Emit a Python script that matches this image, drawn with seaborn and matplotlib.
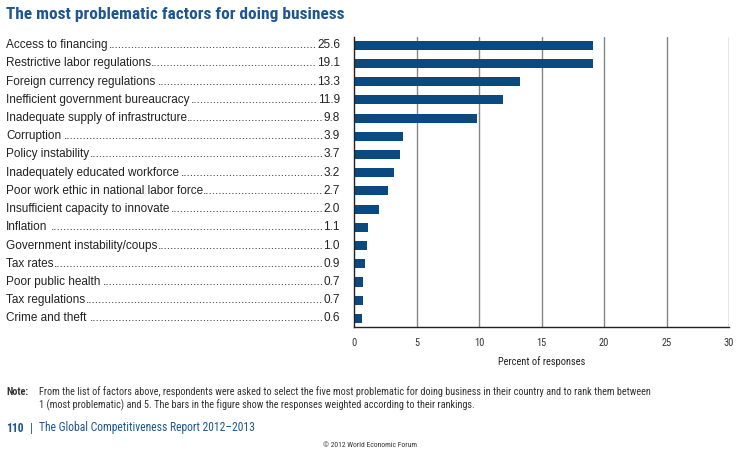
import matplotlib

matplotlib.use("Agg")

import matplotlib.pyplot as plt
import matplotlib.transforms as mtransforms
import pandas as pd
import seaborn as sns


FACTORS = [
    "Access to financing",
    "Restrictive labor regulations",
    "Foreign currency regulations",
    "Inefficient government bureaucracy",
    "Inadequate supply of infrastructure",
    "Corruption",
    "Policy instability",
    "Inadequately educated workforce",
    "Poor work ethic in national labor force",
    "Insufficient capacity to innovate",
    "Inflation",
    "Government instability/coups",
    "Tax rates",
    "Poor public health",
    "Tax regulations",
    "Crime and theft",
]
# values printed next to the labels
LABEL_VALUES = [25.6, 19.1, 13.3, 11.9, 9.8, 3.9, 3.7, 3.2, 2.7, 2.0, 1.1, 1.0, 0.9, 0.7, 0.7, 0.6]
# bar lengths as drawn in the figure (first bar is drawn at the same length as the second)
BAR_VALUES = [19.1, 19.1, 13.3, 11.9, 9.8, 3.9, 3.7, 3.2, 2.7, 2.0, 1.1, 1.0, 0.9, 0.7, 0.7, 0.6]
X_TICKS = [0, 5, 10, 15, 20, 25, 30]

BAR_COLOR = "#0a4a80"
TITLE_COLOR = "#1d5690"
FONT = ["Liberation Sans", "DejaVu Sans"]
NARROW = ["Roboto Condensed", "DejaVu Sans"]


def main() -> None:
    sns.set_theme(style="white")
    plt.rcParams["font.family"] = FONT

    df = pd.DataFrame({"factor": FACTORS, "value": BAR_VALUES})

    fig = plt.figure(figsize=(7.44, 4.53), dpi=100)
    ax = fig.add_axes([354 / 744, 1 - 327 / 453, 375 / 744, 290 / 453])

    sns.barplot(data=df, x="value", y="factor", color=BAR_COLOR, saturation=1,
                width=0.5, linewidth=0, ax=ax, zorder=3)

    ax.set_xlim(0, 30)
    ax.set_ylim(15.47, -0.45)
    ax.set_xticks(X_TICKS)
    ax.set_xticklabels([str(t) for t in X_TICKS], family=NARROW, fontsize=7.5, color="#333333")
    ax.tick_params(axis="x", length=0, pad=8)
    ax.set_yticks([])
    ax.set_ylabel("")
    ax.set_xlabel("Percent of responses", family=NARROW, fontsize=7.5, color="#222222", labelpad=6)
    for t in X_TICKS[1:]:
        ax.axvline(t, color="#858585", lw=1.0, zorder=1)
    for side in ["top", "right"]:
        ax.spines[side].set_visible(False)
    for side in ["left", "bottom"]:
        ax.spines[side].set_color("#222222")
        ax.spines[side].set_linewidth(1.0)
        ax.spines[side].set_zorder(4)

    # labels with dot leaders
    trans = mtransforms.blended_transform_factory(fig.transFigure, ax.transData)
    x_left = 6 / 744
    x_right = 340 / 744
    fig.canvas.draw()
    renderer = fig.canvas.get_renderer()
    fw = fig.bbox.width
    probe = fig.text(0, 0, "." * 40, fontsize=8.5, family=FONT)
    dot_w = probe.get_window_extent(renderer).width / fw / 40
    probe.remove()
    for i, (name, val) in enumerate(zip(FACTORS, LABEL_VALUES)):
        kw = dict(fontsize=8.5, color="#222222", va="center", transform=trans, family=FONT)
        t1 = fig.text(x_left, i, name, ha="left", **kw)
        t2 = fig.text(x_right, i, f"{val:.1f}", ha="right", **kw)
        w1 = t1.get_window_extent(renderer).width / fw
        w2 = t2.get_window_extent(renderer).width / fw
        gap = x_right - w2 - (x_left + w1)
        n = int(gap / dot_w)
        fig.text(x_right - w2, i, "." * n, ha="right", **kw)

    fig.text(6 / 744, 1 - 14 / 453, "The most problematic factors for doing business",
             fontsize=12.4, fontweight="bold", color=TITLE_COLOR, family=NARROW,
             ha="left", va="center")

    note_kw = dict(fontsize=7.35, family=NARROW, color="#333333", va="center", ha="left")
    fig.text(6 / 744, 1 - 392 / 453, "Note:", fontweight="bold", **note_kw)
    fig.text(39 / 744, 1 - 392 / 453,
             "From the list of factors above, respondents were asked to select the five most "
             "problematic for doing business in their country and to rank them between",
             **note_kw)
    fig.text(39 / 744, 1 - 405 / 453,
             "1 (most problematic) and 5. The bars in the figure show the responses "
             "weighted according to their rankings.", **note_kw)

    foot_kw = dict(fontsize=8.4, family=NARROW, color=TITLE_COLOR, ha="left", va="center")
    fig.text(6 / 744, 1 - 428 / 453, "110", fontweight="bold", **foot_kw)
    fig.text(30 / 744, 1 - 428 / 453, "|", **foot_kw)
    fig.text(39 / 744, 1 - 428 / 453, "The Global Competitiveness Report 2012\u20132013", **foot_kw)
    fig.text(370 / 744, 1 - 445 / 453, "\u00a9 2012 World Economic Forum", fontsize=5.5,
             family=NARROW, color="#333333", ha="center", va="center")

    fig.savefig("out.png", dpi=100)


if __name__ == "__main__":
    main()
